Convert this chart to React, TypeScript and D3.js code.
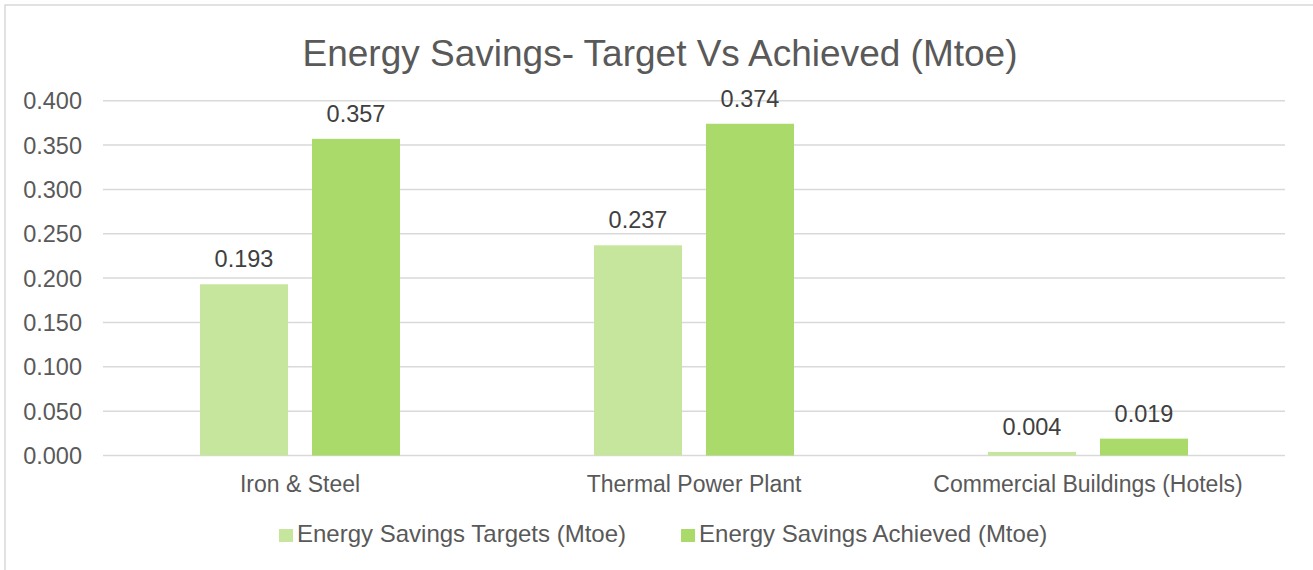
import * as d3 from 'd3';
import React, { useEffect, useRef } from 'react';

const categories = ['Iron & Steel', 'Thermal Power Plant', 'Commercial Buildings (Hotels)'];
const seriesNames = ['Energy Savings Targets (Mtoe)', 'Energy Savings Achieved (Mtoe)'];
const targets = [0.193, 0.237, 0.004];
const achieved = [0.357, 0.374, 0.019];
const yTicks = [0, 0.05, 0.1, 0.15, 0.2, 0.25, 0.3, 0.35, 0.4];
const title = 'Energy Savings- Target Vs Achieved (Mtoe)';

const colors = ['#c5e69c', '#a9da6a'];
const textColor = '#595959';
const gridColor = '#d9d9d9';
const font = '"Liberation Sans", Arial, sans-serif';

export default function App() {
  const svgRef = useRef<SVGSVGElement | null>(null);

  useEffect(() => {
    const width = 1313;
    const height = 570;
    const svg = d3.select(svgRef.current).attr('width', width).attr('height', height);
    svg.selectAll('*').remove();

    // chart area frame (runs past the window on right and bottom)
    svg
      .append('rect')
      .attr('x', 5)
      .attr('y', 5)
      .attr('width', 1320)
      .attr('height', 590)
      .attr('fill', '#fff')
      .attr('stroke', gridColor)
      .attr('stroke-width', 1.5);

    const plot = { left: 103, right: 1285, top: 100.7, bottom: 455.5 };

    const y = d3.scaleLinear().domain([0, 0.4]).range([plot.bottom, plot.top]);
    const x0 = d3.scaleBand<string>().domain(categories).range([plot.left, plot.right]).padding(0);
    const groupW = x0.bandwidth() * 0.5076;
    const x1 = d3
      .scaleBand<string>()
      .domain(seriesNames)
      .range([(x0.bandwidth() - groupW) / 2, (x0.bandwidth() + groupW) / 2])
      .paddingInner(0.214)
      .paddingOuter(0);

    // title
    svg
      .append('text')
      .attr('x', 660)
      .attr('y', 66)
      .attr('text-anchor', 'middle')
      .style('font-family', font)
      .style('font-size', '37px')
      .attr('fill', textColor)
      .text(title);

    // gridlines
    svg
      .append('g')
      .selectAll('line')
      .data(yTicks)
      .enter()
      .append('line')
      .attr('x1', plot.left)
      .attr('x2', plot.right)
      .attr('y1', (d) => y(d))
      .attr('y2', (d) => y(d))
      .attr('stroke', gridColor)
      .attr('stroke-width', 1.5);

    // y tick labels
    svg
      .append('g')
      .selectAll('text')
      .data(yTicks)
      .enter()
      .append('text')
      .attr('x', 82)
      .attr('y', (d) => y(d))
      .attr('dy', '0.36em')
      .attr('text-anchor', 'end')
      .style('font-family', font)
      .style('font-size', '23.5px')
      .attr('fill', textColor)
      .text((d) => d3.format('.3f')(d));

    const rows = categories.map((c, i) => ({ category: c, values: [targets[i], achieved[i]] }));

    const groups = svg
      .append('g')
      .selectAll('g')
      .data(rows)
      .enter()
      .append('g')
      .attr('transform', (d) => `translate(${x0(d.category)},0)`);

    groups
      .selectAll('rect')
      .data((d) => d.values.map((v, i) => ({ name: seriesNames[i], value: v, idx: i })))
      .enter()
      .append('rect')
      .attr('x', (d) => x1(d.name)!)
      .attr('width', x1.bandwidth())
      .attr('y', (d) => y(d.value))
      .attr('height', (d) => plot.bottom - y(d.value))
      .attr('fill', (d) => colors[d.idx]);

    // data labels
    groups
      .selectAll('text.label')
      .data((d) => d.values.map((v, i) => ({ name: seriesNames[i], value: v })))
      .enter()
      .append('text')
      .attr('class', 'label')
      .attr('x', (d) => x1(d.name)! + x1.bandwidth() / 2)
      .attr('y', (d) => y(d.value) - 17)
      .attr('text-anchor', 'middle')
      .style('font-family', font)
      .style('font-size', '23.5px')
      .attr('fill', '#404040')
      .text((d) => d3.format('.3f')(d.value));

    // category labels
    svg
      .append('g')
      .selectAll('text')
      .data(categories)
      .enter()
      .append('text')
      .attr('x', (d) => x0(d)! + x0.bandwidth() / 2)
      .attr('y', 492)
      .attr('text-anchor', 'middle')
      .style('font-family', font)
      .style('font-size', '23px')
      .attr('fill', textColor)
      .text((d) => d);

    // legend
    const legend = svg.append('g');
    let lx = 279;
    seriesNames.forEach((name, i) => {
      legend
        .append('rect')
        .attr('x', lx)
        .attr('y', 529)
        .attr('width', 14)
        .attr('height', 13)
        .attr('fill', colors[i]);
      const t = legend
        .append('text')
        .attr('x', lx + 18)
        .attr('y', 542)
        .style('font-family', font)
        .style('font-size', '24px')
        .attr('fill', textColor)
        .text(name);
      const w = (t.node() as SVGTextElement).getComputedTextLength();
      lx = lx + 18 + w + 55;
    });
  }, []);

  return (
    <div style={{ position: 'absolute', left: 0, top: 0, width: 1313, height: 570, overflow: 'hidden', background: '#fff' }}>
      <svg ref={svgRef} style={{ display: 'block' }} />
    </div>
  );
}
